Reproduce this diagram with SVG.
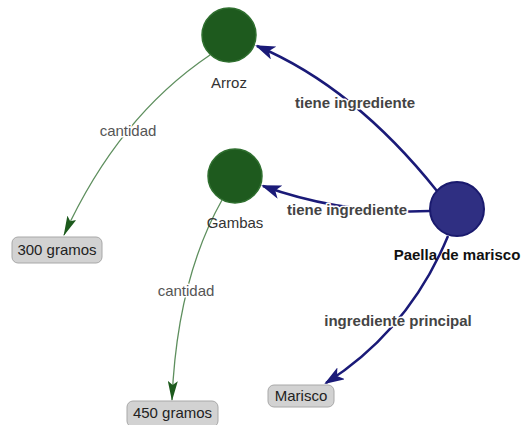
<svg xmlns="http://www.w3.org/2000/svg" width="521" height="425" viewBox="0 0 521 425">
<style>
.ing{fill:#1e5a1e;stroke:#2f6f2f;stroke-width:1.5}
.main{fill:#2f2f82;stroke:#1a1a6e;stroke-width:2}
.box{fill:#d2d2d2;stroke:#a8a8a8;stroke-width:1}
.nl{font-family:"Liberation Sans",Arial,sans-serif;font-size:15px;fill:#333;text-anchor:middle}
.bl{font-family:"Liberation Sans",Arial,sans-serif;font-size:15px;fill:#222;text-anchor:middle}
.el{font-family:"Liberation Sans",Arial,sans-serif;font-size:15px;font-weight:bold;fill:#444;text-anchor:middle;stroke:#fff;stroke-width:3;paint-order:stroke;stroke-linejoin:round}
.cl{font-family:"Liberation Sans",Arial,sans-serif;font-size:15px;fill:#555;text-anchor:middle;stroke:#fff;stroke-width:3;paint-order:stroke;stroke-linejoin:round}
.ne{fill:none;stroke:#1a1a78;stroke-width:2.5}
.ge{fill:none;stroke:#5e8f5e;stroke-width:1.3}
</style>
<defs>
<marker id="an" viewBox="0 0 20 14" refX="18" refY="7" markerWidth="20" markerHeight="14" markerUnits="userSpaceOnUse" orient="auto">
<path d="M0,0 L20,7 L0,14 L5,7 Z" fill="#1a1a78"/>
</marker>
<marker id="ag" viewBox="0 0 20 10" refX="19" refY="5" markerWidth="20" markerHeight="10" markerUnits="userSpaceOnUse" orient="auto">
<path d="M0,0 L20,5 L0,10 L4,5 Z" fill="#1d5a1d"/>
</marker>
</defs>
<g id="connectors">
<path class="ne" d="M437,191 Q354,87 257,46" marker-end="url(#an)"/>
<path class="ne" d="M430,211 Q344,215 263,186" marker-end="url(#an)"/>
<path class="ne" d="M448,236 Q409,330 326,383" marker-end="url(#an)"/>
<path class="ge" d="M210,55 Q118,117 64,235" marker-end="url(#ag)"/>
<path class="ge" d="M222,200 Q177,280 172,400" marker-end="url(#ag)"/>
<text class="el" x="355" y="108">tiene ingrediente</text>
<text class="el" x="347" y="215">tiene ingrediente</text>
<text class="el" x="398" y="326">ingrediente principal</text>
<text class="cl" x="128" y="136">cantidad</text>
<text class="cl" x="186" y="296">cantidad</text>
</g>
<g id="arroz"><circle class="ing" cx="229" cy="35" r="27"/><text class="nl" x="229" y="88">Arroz</text></g>
<g id="gambas"><circle class="ing" cx="235" cy="176" r="27"/><text class="nl" x="235" y="228">Gambas</text></g>
<g id="paella"><circle class="main" cx="457" cy="209" r="27"/><text class="nl" x="457" y="260" style="font-weight:bold;fill:#111">Paella de marisco</text></g>
<g id="g300"><rect class="box" x="12" y="237" width="90" height="26" rx="6"/><text class="bl" x="57" y="255">300 gramos</text></g>
<g id="g450"><rect class="box" x="127" y="401" width="91" height="26" rx="6"/><text class="bl" x="172.5" y="418">450 gramos</text></g>
<g id="marisco"><rect class="box" x="268" y="385" width="66" height="22" rx="6"/><text class="bl" x="301" y="401">Marisco</text></g>
</svg>
